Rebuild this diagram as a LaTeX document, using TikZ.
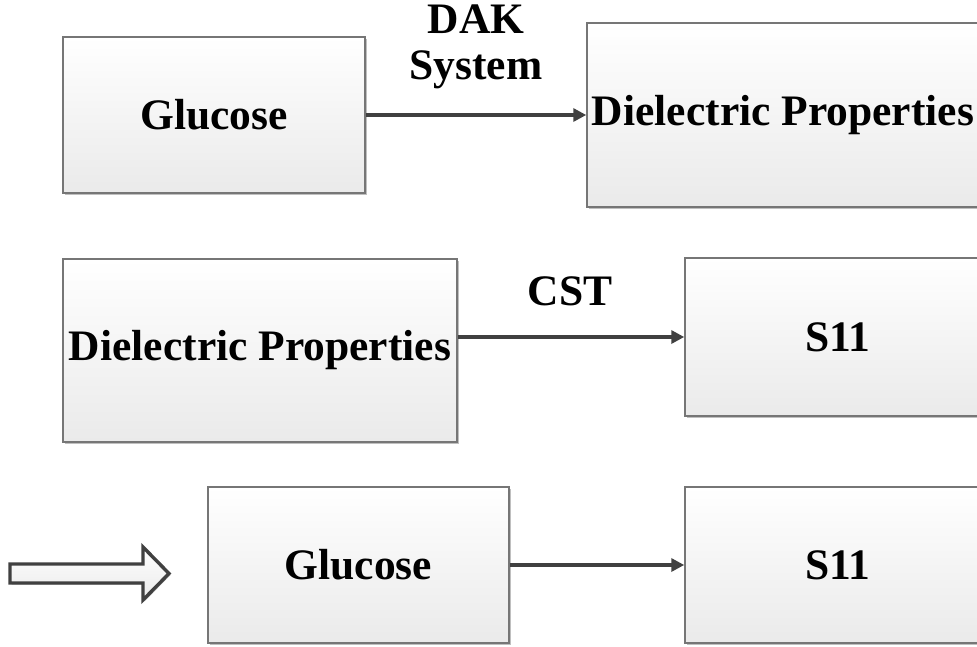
\documentclass[tikz,border=0pt]{standalone}
\usepackage{fontspec}
\setmainfont{Liberation Serif}
\usetikzlibrary{arrows.meta,shadows}
\definecolor{boxline}{HTML}{767676}
\definecolor{boxbot}{HTML}{EAEAEA}
\definecolor{arrowgray}{HTML}{404040}
\begin{document}
\begin{tikzpicture}[x=1pt,y=-1pt,
  bigfont/.style={font=\fontsize{43.5}{46}\selectfont\bfseries},
  box/.style={draw=boxline, line width=1.5pt, shading=axis, top color=white,
    bottom color=boxbot, inner sep=0pt, bigfont,
    drop shadow={shadow xshift=1.5pt, shadow yshift=-1.5pt, opacity=0.25, fill=black}},
  conn/.style={draw=arrowgray, line width=3.4pt, -{Triangle[length=13pt,width=13pt]}},
  lbl/.style={bigfont, align=center, inner sep=0pt},
  blockarrow/.style={draw=arrowgray, line width=3.4pt, shading=axis, top color=white,
    bottom color=boxbot,
    drop shadow={shadow xshift=1.5pt, shadow yshift=-1.5pt, opacity=0.25, fill=black}}]
\useasboundingbox (0,0) rectangle (977,646);
\clip (0,0) rectangle (977,646);

% row 1
\node[box, minimum width=302pt, minimum height=156pt] (g1) at (214,115) {Glucose};
\node[box, minimum width=392pt, minimum height=184pt] (d1) at (783,115) {Dielectric Properties};
\draw[conn] (g1.east) -- (d1.west);
\node[lbl, anchor=north] (dak) at (476,5) {DAK\\System};

% row 2
\node[box, minimum width=394pt, minimum height=183pt] (d2) at (260,350.5) {Dielectric Properties};
\node[box, minimum width=306pt, minimum height=158pt] (s1) at (838,337) {S11};
\draw[conn] (d2.east |- s1.west) -- (s1.west);
\node[lbl] (cst) at (570,291) {CST};

% row 3
\draw[blockarrow] (10,564) -- (143,564) -- (143,547) -- (169,573.5) -- (143,600)
  -- (143,583) -- (10,583) -- cycle;
\node[box, minimum width=301pt, minimum height=156pt] (g2) at (358.5,565) {Glucose};
\node[box, minimum width=306pt, minimum height=156pt] (s2) at (838,565) {S11};
\draw[conn] (g2.east) -- (s2.west);
\end{tikzpicture}
\end{document}
